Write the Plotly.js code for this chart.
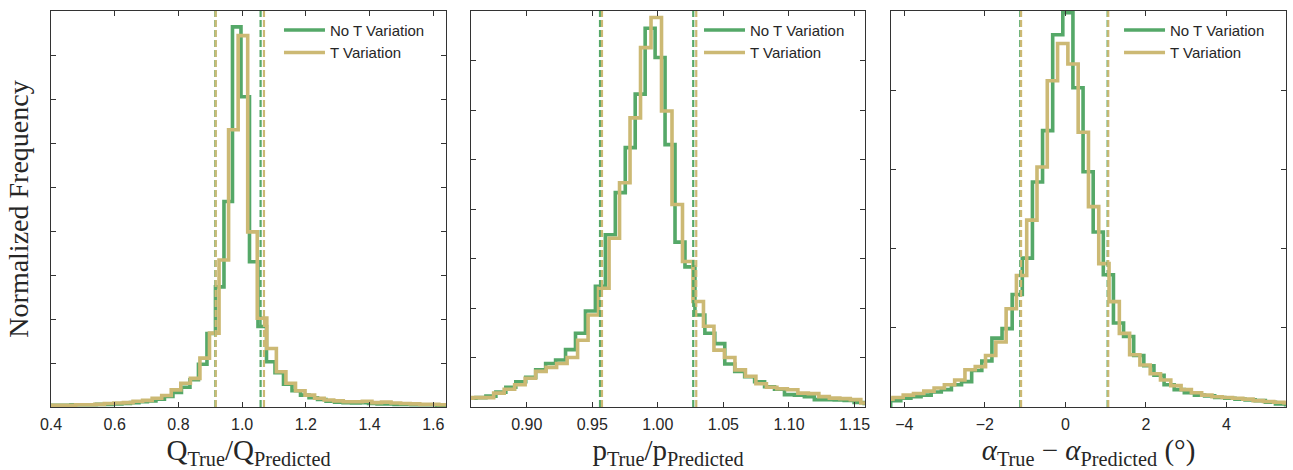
<!DOCTYPE html>
<html>
<head>
<meta charset="utf-8">
<script src="https://cdn.plot.ly/plotly-3.0.1.min.js"></script>
<style>
  html, body { margin: 0; padding: 0; background: #ffffff; }
  #chart { width: 1293px; height: 470px; }
</style>
</head>
<body>
<div id="chart"></div>
<script>
// ---------------- DATA ----------------
// Panel 1: Q_True / Q_Predicted (normalized frequency per bin)
const Q_GREEN_START = 0.3823, Q_GREEN_WIDTH = 0.0267;
const Q_GREEN = [0.04, 0.04, 0.04, 0.05, 0.05, 0.05, 0.06, 0.06, 0.07, 0.08,
                 0.10, 0.12, 0.14, 0.18, 0.24, 0.33, 0.45, 0.62, 0.97, 1.67,
                 2.73, 4.67, 8.64, 7.05, 3.30, 1.83, 1.03, 0.78, 0.52, 0.37,
                 0.27, 0.21, 0.17, 0.13, 0.11, 0.10, 0.09, 0.10, 0.08, 0.07,
                 0.07, 0.06, 0.06, 0.05, 0.05, 0.05, 0.04, 0.04];
const Q_TAN_START = 0.3875, Q_TAN_WIDTH = 0.0300;
const Q_TAN = [0.04, 0.04, 0.04, 0.05, 0.05, 0.06, 0.08, 0.09, 0.10, 0.13,
               0.15, 0.20, 0.26, 0.39, 0.54, 0.65, 1.11, 1.68, 3.34, 6.30,
               8.44, 3.98, 2.02, 1.33, 0.80, 0.54, 0.37, 0.27, 0.20, 0.16,
               0.14, 0.12, 0.12, 0.13, 0.10, 0.11, 0.09, 0.08, 0.07, 0.06,
               0.06, 0.05];
const Q_LINES_GREEN = [0.916, 1.058];
const Q_LINES_TAN = [0.917, 1.0686];

// Panel 2: p_True / p_Predicted
const P_GREEN_START = 0.85371, P_GREEN_WIDTH = 0.00759;
const P_GREEN = [0.36, 0.38, 0.44, 0.60, 0.80, 1.02, 1.20, 1.50, 1.76, 1.90,
                 2.32, 2.98, 3.88, 4.88, 6.96, 8.66, 10.48, 12.64, 15.30, 14.12,
                 10.60, 6.66, 5.66, 3.72, 2.98, 2.56, 1.74, 1.44, 1.22, 1.02,
                 0.82, 0.72, 0.50, 0.48, 0.42, 0.30, 0.30, 0.28, 0.26, 0.18,
                 0.14];
const P_TAN_START = 0.8508, P_TAN_WIDTH = 0.0080;
const P_TAN = [0.36, 0.38, 0.38, 0.56, 0.72, 0.90, 1.16, 1.44, 1.60, 1.76,
               2.00, 2.70, 3.72, 4.80, 6.82, 9.06, 11.68, 14.52, 15.74, 11.96,
               8.18, 5.88, 4.26, 3.26, 2.30, 2.00, 1.50, 1.24, 0.94, 0.80,
               0.74, 0.70, 0.56, 0.54, 0.42, 0.36, 0.34, 0.30, 0.16];
const P_LINES_GREEN = [0.9559, 1.0270];
const P_LINES_TAN = [0.9574, 1.0293];

// Panel 3: alpha_True - alpha_Predicted (degrees)
const A_GREEN_START = -4.3385, A_GREEN_WIDTH = 0.2515;
const A_GREEN = [0.004, 0.0055, 0.0065, 0.0075, 0.0095, 0.011, 0.014, 0.016, 0.023, 0.029,
                 0.0435, 0.0495, 0.071, 0.094, 0.142, 0.1745, 0.235, 0.249, 0.2015, 0.1485,
                 0.1105, 0.0835, 0.053, 0.0445, 0.0325, 0.026, 0.020, 0.014, 0.011, 0.009,
                 0.0075, 0.007, 0.006, 0.0055, 0.005, 0.0045, 0.004, 0.003, 0.002, 0.0015];
const A_TAN_START = -4.538, A_TAN_WIDTH = 0.2556;
const A_TAN = [0.005, 0.006, 0.0075, 0.0085, 0.010, 0.012, 0.014, 0.017, 0.0235, 0.0255,
               0.0325, 0.041, 0.062, 0.083, 0.118, 0.1515, 0.206, 0.2295, 0.2165, 0.1735,
               0.1265, 0.0905, 0.0665, 0.0465, 0.033, 0.0265, 0.021, 0.017, 0.0135, 0.011,
               0.009, 0.0075, 0.0065, 0.006, 0.0055, 0.005, 0.004, 0.0035, 0.003, 0.0025];
const A_LINES_GREEN = [-1.12, 1.05];
const A_LINES_TAN = [-1.10, 1.065];

const SERIES_NAMES = ['No T Variation', 'T Variation'];
const Q_TICKS = [0.4, 0.6, 0.8, 1.0, 1.2, 1.4, 1.6];
const P_TICKS = [0.90, 0.95, 1.00, 1.05, 1.10, 1.15];
const A_TICKS = [-4, -2, 0, 2, 4];

// ---------------- STYLE ----------------
const GREEN = '#55a868';
const TAN = '#ccb974';
const AX_COLOR = '#333333';
const TEXT_COLOR = '#262626';
const SANS = 'Liberation Sans, Arial, sans-serif';
const SERIF = 'Liberation Serif, Times New Roman, serif';

// Step outline (histtype='step') from bin definition and values
function stepTrace(start, width, vals, color, name, xa, ya, leg) {
  const x = [start, start];
  const y = [0, vals[0]];
  for (let i = 1; i < vals.length; i++) {
    x.push(start + i * width);
    y.push(vals[i]);
  }
  x.push(start + vals.length * width);
  y.push(0);
  return {
    type: 'scatter', mode: 'lines', x: x, y: y, name: name,
    xaxis: xa, yaxis: ya, legend: leg,
    line: {color: color, width: 3.6, shape: 'hv'},
    hoverinfo: 'skip'
  };
}

const traces = [
  stepTrace(Q_GREEN_START, Q_GREEN_WIDTH, Q_GREEN, GREEN, SERIES_NAMES[0], 'x', 'y', 'legend'),
  stepTrace(Q_TAN_START, Q_TAN_WIDTH, Q_TAN, TAN, SERIES_NAMES[1], 'x', 'y', 'legend'),
  stepTrace(P_GREEN_START, P_GREEN_WIDTH, P_GREEN, GREEN, SERIES_NAMES[0], 'x2', 'y2', 'legend2'),
  stepTrace(P_TAN_START, P_TAN_WIDTH, P_TAN, TAN, SERIES_NAMES[1], 'x2', 'y2', 'legend2'),
  stepTrace(A_GREEN_START, A_GREEN_WIDTH, A_GREEN, GREEN, SERIES_NAMES[0], 'x3', 'y3', 'legend3'),
  stepTrace(A_TAN_START, A_TAN_WIDTH, A_TAN, TAN, SERIES_NAMES[1], 'x3', 'y3', 'legend3')
];

function vlines(vals, color, xref, yref) {
  return vals.map(v => ({
    type: 'line', xref: xref, yref: yref + ' domain',
    x0: v, x1: v, y0: 0, y1: 1,
    line: {color: color, width: 2.2, dash: '7px,3px'},
    layer: 'above'
  }));
}

const shapes = [].concat(
  vlines(Q_LINES_GREEN, GREEN, 'x', 'y'),
  vlines(Q_LINES_TAN, TAN, 'x', 'y'),
  vlines(P_LINES_GREEN, GREEN, 'x2', 'y2'),
  vlines(P_LINES_TAN, TAN, 'x2', 'y2'),
  vlines(A_LINES_GREEN, GREEN, 'x3', 'y3'),
  vlines(A_LINES_TAN, TAN, 'x3', 'y3')
);

function xaxis(domain, range, ticks, fmt, title, anchor) {
  return {
    domain: domain, range: range, anchor: anchor,
    tickvals: ticks, tickformat: fmt,
    ticks: 'inside', ticklen: 5, tickwidth: 1, tickcolor: AX_COLOR,
    showline: true, linecolor: AX_COLOR, linewidth: 1.25, mirror: 'ticks',
    showgrid: false, zeroline: false,
    tickfont: {family: SANS, size: 16, color: TEXT_COLOR},
    ticklabelstandoff: 3,
    title: {text: title, font: {family: SERIF, size: 29, color: TEXT_COLOR}, standoff: 7}
  };
}
function yaxis(range, dtick, anchor, title) {
  const ax = {
    range: range, dtick: dtick, tick0: 0, anchor: anchor,
    ticks: 'inside', ticklen: 5, tickwidth: 1, tickcolor: AX_COLOR,
    showline: true, linecolor: AX_COLOR, linewidth: 1.25, mirror: 'ticks',
    showgrid: false, zeroline: false, showticklabels: false
  };
  if (title) ax.title = {text: title, font: {family: SERIF, size: 28, color: TEXT_COLOR}, standoff: 13};
  return ax;
}

function legendAt(x) {
  return {
    x: x, y: 0.993, xanchor: 'left', yanchor: 'top',
    bgcolor: 'rgba(0,0,0,0)', borderwidth: 0,
    itemwidth: 41, tracegroupgap: 0,
    font: {family: SANS, size: 15, color: TEXT_COLOR}
  };
}

const layout = {
  width: 1293, height: 470,
  margin: {l: 51, r: 7, t: 11, b: 63},
  paper_bgcolor: '#ffffff', plot_bgcolor: '#ffffff',
  showlegend: true,
  xaxis: xaxis([0, 0.31984], [0.4, 1.64], Q_TICKS, '.1f',
               'Q<sub>True</sub>/Q<sub>Predicted</sub>', 'y'),
  xaxis2: xaxis([0.34008, 0.65911], [0.8575, 1.158], P_TICKS, '.2f',
                'p<sub>True</sub>/p<sub>Predicted</sub>', 'y2'),
  xaxis3: xaxis([0.68016, 1], [-4.33, 5.48], A_TICKS, 'd',
                '<i>α</i><sub>True</sub> − <i>α</i><sub>Predicted</sub> (°)', 'y3'),
  yaxis: yaxis([0, 9], 1, 'x', 'Normalized Frequency'),
  yaxis2: yaxis([0, 16], 2, 'x2'),
  yaxis3: yaxis([0, 0.25], 0.05, 'x3'),
  legend: legendAt(0.1846),
  legend2: legendAt(0.5247),
  legend3: legendAt(0.8648),
  shapes: shapes,
  hovermode: false
};

Plotly.newPlot('chart', traces, layout, {staticPlot: true, displayModeBar: false});
</script>
</body>
</html>
